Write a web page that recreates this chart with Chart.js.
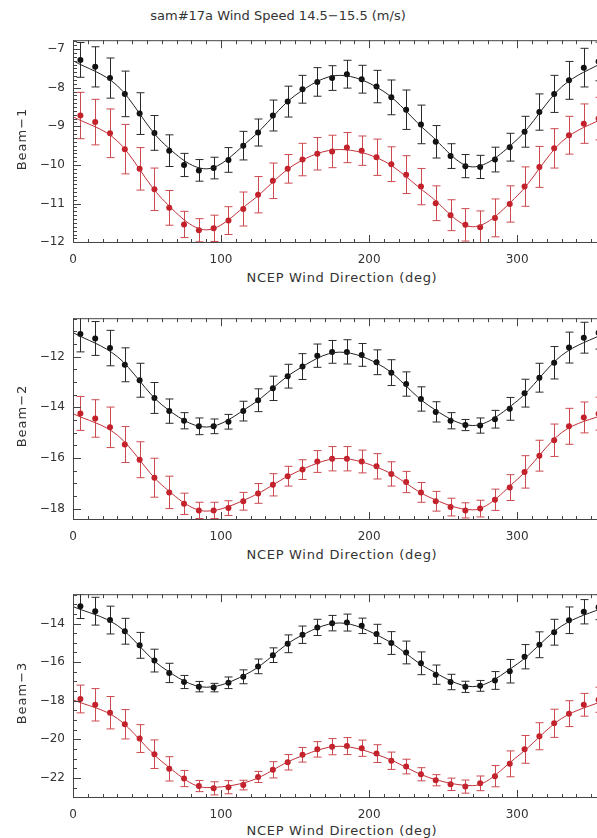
<!DOCTYPE html>
<html>
<head>
<meta charset="utf-8">
<script src="https://cdn.jsdelivr.net/npm/chart.js@4.4.1/dist/chart.umd.min.js"></script>
<style>
  html, body { margin: 0; padding: 0; background: #fff; overflow: hidden; width: 597px; height: 838px; }
  #fig { position: relative; width: 597px; height: 838px; overflow: hidden; background: #fff; }
  .panel { position: absolute; left: 0; }
  .lbl { position: absolute; font-family: "DejaVu Sans", sans-serif; color: #333; white-space: nowrap;
         transform: translate(-50%, -50%); line-height: 1; font-size: 13px; }
  .xt { letter-spacing: 0.7px; }
  .ylbl { transform: translate(-50%, -50%) rotate(-90deg); letter-spacing: 1px; }
</style>
</head>
<body>
<div id="fig">
  <div class="lbl" style="left:278px; top:15px;">sam#17a Wind Speed 14.5−15.5 (m/s)</div>

  <canvas id="c1" class="panel" width="640" height="240" style="top:25px"></canvas>
  <canvas id="c2" class="panel" width="640" height="239" style="top:303px"></canvas>
  <canvas id="c3" class="panel" width="640" height="241" style="top:579px"></canvas>

  <div class="lbl ylbl" style="left:21px; top:139px;">Beam−1</div>
  <div class="lbl ylbl" style="left:21px; top:416px;">Beam−2</div>
  <div class="lbl ylbl" style="left:21px; top:693px;">Beam−3</div>

  <div class="lbl xt" style="left:342px; top:277px;">NCEP Wind Direction (deg)</div>
  <div class="lbl xt" style="left:342px; top:554px;">NCEP Wind Direction (deg)</div>
  <div class="lbl xt" style="left:342px; top:830px;">NCEP Wind Direction (deg)</div>
</div>

<script>
// Wind-direction bin centres (deg) and the nodes used for the harmonic fit curves
const directions = [5, 15, 25, 35, 45, 55, 65, 75, 85, 95, 105, 115, 125, 135, 145, 155, 165, 175,
                    185, 195, 205, 215, 225, 235, 245, 255, 265, 275, 285, 295, 305, 315, 325, 335, 345, 355];
const fitDirections = [0, 30, 60, 90, 120, 150, 180, 210, 240, 270, 300, 330, 360];

// Tick labels
const xTicks = [0, 100, 200, 300];
const beam1Ticks = [-12, -11, -10, -9, -8, -7];
const beam2Ticks = [-18, -16, -14, -12];
const beam3Ticks = [-22, -20, -18, -16, -14];

// Beam-1
const beam1Black = [-7.28, -7.46, -7.75, -8.16, -8.67, -9.17, -9.63, -10.00, -10.14, -10.08, -9.87, -9.50,
                    -9.16, -8.72, -8.36, -8.04, -7.85, -7.75, -7.65, -7.78, -7.97, -8.25, -8.57, -8.95,
                    -9.40, -9.77, -10.03, -10.05, -9.86, -9.54, -9.14, -8.63, -8.16, -7.81, -7.48, -7.32];
const beam1BlackErr = [0.45, 0.52, 0.52, 0.59, 0.54, 0.45, 0.41, 0.30, 0.28, 0.28, 0.32, 0.37,
                       0.35, 0.40, 0.40, 0.36, 0.37, 0.32, 0.36, 0.36, 0.42, 0.45, 0.51, 0.50,
                       0.42, 0.32, 0.30, 0.30, 0.32, 0.36, 0.40, 0.47, 0.48, 0.49, 0.50, 0.50];
const beam1BlackFit = [-7.30, -7.95, -9.40, -10.10, -9.33, -8.20, -7.68, -8.10, -9.17, -10.05, -9.34, -7.98, -7.30];
const beam1Red = [-8.72, -8.89, -9.18, -9.59, -10.10, -10.63, -11.11, -11.54, -11.69, -11.64, -11.44, -11.14,
                  -10.77, -10.41, -10.10, -9.86, -9.71, -9.65, -9.55, -9.63, -9.80, -9.98, -10.25, -10.56,
                  -10.99, -11.30, -11.55, -11.61, -11.37, -11.01, -10.56, -10.05, -9.57, -9.23, -8.93, -8.80];
const beam1RedErr = [0.60, 0.59, 0.63, 0.64, 0.55, 0.55, 0.45, 0.34, 0.30, 0.34, 0.36, 0.44,
                     0.47, 0.46, 0.37, 0.42, 0.42, 0.42, 0.39, 0.38, 0.47, 0.45, 0.49, 0.47,
                     0.45, 0.40, 0.42, 0.42, 0.49, 0.47, 0.51, 0.53, 0.51, 0.49, 0.51, 0.55];
const beam1RedFit = [-8.75, -9.38, -10.87, -11.68, -10.95, -9.98, -9.60, -9.90, -10.77, -11.60, -10.80, -9.40, -8.75];

// Beam-2
const beam2Black = [-11.10, -11.28, -11.66, -12.32, -12.93, -13.63, -14.15, -14.53, -14.75, -14.75, -14.57, -14.15,
                    -13.72, -13.25, -12.77, -12.39, -11.96, -11.81, -11.81, -11.93, -12.22, -12.63, -13.08, -13.67,
                    -14.18, -14.53, -14.70, -14.72, -14.47, -14.06, -13.44, -12.83, -12.24, -11.64, -11.25, -11.05];
const beam2BlackErr = [0.71, 0.67, 0.70, 0.67, 0.67, 0.61, 0.48, 0.32, 0.33, 0.29, 0.29, 0.39,
                       0.45, 0.48, 0.47, 0.51, 0.46, 0.45, 0.48, 0.45, 0.49, 0.51, 0.48, 0.48,
                       0.40, 0.32, 0.22, 0.30, 0.35, 0.45, 0.55, 0.57, 0.64, 0.61, 0.61, 0.65];
const beam2BlackFit = [-11.05, -12.00, -13.90, -14.78, -13.93, -12.57, -11.82, -12.42, -13.92, -14.72, -13.75, -11.95, -11.05];
const beam2Red = [-14.24, -14.44, -14.79, -15.47, -16.07, -16.78, -17.36, -17.81, -18.07, -18.07, -17.98, -17.71,
                  -17.40, -17.06, -16.72, -16.46, -16.14, -16.03, -16.03, -16.14, -16.33, -16.63, -16.95, -17.36,
                  -17.71, -17.94, -18.07, -18.00, -17.65, -17.17, -16.55, -15.91, -15.30, -14.75, -14.40, -14.25];
const beam2RedErr = [0.67, 0.74, 0.80, 0.71, 0.71, 0.77, 0.64, 0.42, 0.32, 0.32, 0.29, 0.35,
                     0.39, 0.44, 0.39, 0.39, 0.43, 0.48, 0.48, 0.45, 0.50, 0.48, 0.42, 0.39,
                     0.39, 0.35, 0.30, 0.33, 0.42, 0.51, 0.64, 0.61, 0.64, 0.71, 0.61, 0.65];
const beam2RedFit = [-14.25, -15.10, -17.07, -18.10, -17.55, -16.58, -16.02, -16.48, -17.53, -18.05, -16.85, -15.00, -14.25];

// Beam-3
const beam3Black = [-13.11, -13.36, -13.82, -14.40, -15.13, -15.92, -16.56, -17.03, -17.27, -17.32, -17.07, -16.76,
                    -16.22, -15.64, -15.05, -14.58, -14.20, -13.98, -13.95, -14.12, -14.54, -15.01, -15.50, -16.06,
                    -16.65, -17.03, -17.28, -17.23, -16.95, -16.47, -15.72, -15.10, -14.45, -13.83, -13.39, -13.15];
const beam3BlackErr = [0.63, 0.72, 0.72, 0.67, 0.67, 0.59, 0.50, 0.34, 0.27, 0.22, 0.30, 0.36,
                       0.38, 0.38, 0.46, 0.45, 0.42, 0.40, 0.44, 0.40, 0.50, 0.59, 0.59, 0.59,
                       0.50, 0.40, 0.29, 0.28, 0.46, 0.61, 0.63, 0.67, 0.67, 0.69, 0.63, 0.65];
const beam3BlackFit = [-13.12, -14.10, -16.25, -17.30, -16.50, -14.80, -13.97, -14.78, -16.35, -17.27, -16.10, -14.13, -13.12];
const beam3Red = [-17.91, -18.21, -18.62, -19.22, -19.96, -20.77, -21.53, -22.03, -22.42, -22.54, -22.48, -22.37,
                  -21.95, -21.58, -21.19, -20.80, -20.52, -20.38, -20.35, -20.46, -20.74, -21.11, -21.41, -21.81,
                  -22.12, -22.33, -22.45, -22.28, -21.91, -21.27, -20.52, -19.84, -19.17, -18.67, -18.21, -17.95];
const beam3RedErr = [0.72, 0.84, 0.84, 0.76, 0.72, 0.74, 0.63, 0.42, 0.29, 0.34, 0.34, 0.25,
                     0.29, 0.42, 0.40, 0.38, 0.40, 0.42, 0.44, 0.42, 0.46, 0.45, 0.38, 0.34,
                     0.29, 0.32, 0.34, 0.38, 0.55, 0.67, 0.72, 0.70, 0.73, 0.67, 0.59, 0.65];
const beam3RedFit = [-17.95, -18.92, -21.15, -22.50, -22.15, -21.00, -20.36, -20.92, -21.97, -22.40, -20.90, -18.92, -17.95];

// Colours
const BLACK = '#111111';
const BLACK_BAR = '#2a2a2a';
const RED = '#c4202a';
const RED_BAR = '#cc4a50';
const AXIS = '#444444';
const TEXT = '#333333';

const toPoints = (xs, ys) => xs.map((x, i) => ({ x, y: ys[i] }));
const fmt = v => String(v).replace('-', '\u2212');

// Error bars with caps, drawn under the markers and clipped to the plot box
const errorBarPlugin = {
  id: 'errorBars',
  beforeDatasetsDraw(chart, args, opts) {
    const { ctx, chartArea: a, scales: { x, y } } = chart;
    ctx.save();
    ctx.beginPath();
    ctx.rect(a.left, a.top, a.right - a.left, a.bottom - a.top);
    ctx.clip();
    ctx.lineWidth = 1;
    for (const s of opts.series) {
      ctx.strokeStyle = s.color;
      ctx.beginPath();
      directions.forEach((d, i) => {
        const px = Math.round(x.getPixelForValue(d)) + 0.5;
        const hi = y.getPixelForValue(s.values[i] + s.errors[i]);
        const lo = y.getPixelForValue(s.values[i] - s.errors[i]);
        ctx.moveTo(px, hi); ctx.lineTo(px, lo);
        ctx.moveTo(px - 4, hi); ctx.lineTo(px + 4, hi);
        ctx.moveTo(px - 4, lo); ctx.lineTo(px + 4, lo);
      });
      ctx.stroke();
    }
    ctx.restore();
  }
};

// Box frame with inward major and minor tick marks on all four sides
const framePlugin = {
  id: 'frame',
  afterDraw(chart, args, opts) {
    const { ctx, chartArea: a, scales: { x, y } } = chart;
    ctx.save();
    ctx.strokeStyle = AXIS;
    ctx.lineWidth = 1;
    ctx.beginPath();
    ctx.rect(a.left + 0.5, a.top + 0.5, a.right - a.left - 1, a.bottom - a.top - 1);
    ctx.stroke();
    ctx.beginPath();
    const xTick = (v, len) => {
      const px = Math.round(x.getPixelForValue(v)) + 0.5;
      ctx.moveTo(px, a.bottom); ctx.lineTo(px, a.bottom - len);
      ctx.moveTo(px, a.top); ctx.lineTo(px, a.top + len);
    };
    const yTick = (v, len) => {
      const py = Math.round(y.getPixelForValue(v)) + 0.5;
      ctx.moveTo(a.left, py); ctx.lineTo(a.left + len, py);
      ctx.moveTo(a.right, py); ctx.lineTo(a.right - len, py);
    };
    for (let k = Math.ceil(x.min / opts.xMinor); k * opts.xMinor <= x.max + 1e-9; k++) xTick(k * opts.xMinor, 4);
    for (let k = Math.ceil(y.min / opts.yMinor - 1e-9); k * opts.yMinor <= y.max + 1e-9; k++) yTick(k * opts.yMinor, 4);
    xTicks.forEach(v => xTick(v, 8));
    opts.yMajor.forEach(v => yTick(v, 8));
    ctx.stroke();
    ctx.restore();
  }
};

function makePanel(id, yMin, yMax, yMajor, yMinor, black, blackErr, blackFit, red, redErr, redFit) {
  const tickFont = { family: 'DejaVu Sans', size: 12 };
  return new Chart(document.getElementById(id), {
    type: 'scatter',
    data: {
      datasets: [
        { data: toPoints(fitDirections, blackFit), showLine: true, pointRadius: 0, borderColor: '#222222',
          borderWidth: 1, cubicInterpolationMode: 'monotone' },
        { data: toPoints(fitDirections, redFit), showLine: true, pointRadius: 0, borderColor: '#c23038',
          borderWidth: 1, cubicInterpolationMode: 'monotone' },
        { data: toPoints(directions, black), pointRadius: 3, pointBackgroundColor: BLACK,
          pointBorderColor: BLACK, pointBorderWidth: 0 },
        { data: toPoints(directions, red), pointRadius: 3, pointBackgroundColor: RED,
          pointBorderColor: RED, pointBorderWidth: 0 }
      ]
    },
    options: {
      responsive: false,
      animation: false,
      devicePixelRatio: 1,
      layout: { padding: { left: 0, top: 10, right: 34, bottom: 0 } },
      plugins: {
        legend: { display: false },
        tooltip: { enabled: false },
        errorBars: { series: [
          { values: black, errors: blackErr, color: BLACK_BAR },
          { values: red, errors: redErr, color: RED_BAR }
        ] },
        frame: { xMinor: 10, yMinor, yMajor }
      },
      scales: {
        x: {
          type: 'linear', min: 0, max: 360,
          afterBuildTicks: s => { s.ticks = xTicks.map(v => ({ value: v })); },
          afterFit: s => { s.height = 22; },
          grid: { display: false, drawTicks: false },
          border: { display: false },
          ticks: { padding: 10, color: TEXT, font: tickFont, maxRotation: 0, autoSkip: false, callback: fmt }
        },
        y: {
          type: 'linear', min: yMin, max: yMax,
          afterBuildTicks: s => { s.ticks = yMajor.map(v => ({ value: v })); },
          afterFit: s => { s.width = 73; },
          grid: { display: false, drawTicks: false },
          border: { display: false },
          ticks: { padding: 8, color: TEXT, font: tickFont, autoSkip: false, callback: fmt }
        }
      }
    },
    plugins: [errorBarPlugin, framePlugin]
  });
}

makePanel('c1', -12.02, -6.77, beam1Ticks, 0.1, beam1Black, beam1BlackErr, beam1BlackFit, beam1Red, beam1RedErr, beam1RedFit);
makePanel('c2', -18.45, -10.48, beam2Ticks, 0.5, beam2Black, beam2BlackErr, beam2BlackFit, beam2Red, beam2RedErr, beam2RedFit);
makePanel('c3', -23.04, -12.48, beam3Ticks, 0.5, beam3Black, beam3BlackErr, beam3BlackFit, beam3Red, beam3RedErr, beam3RedFit);
</script>
</body>
</html>
